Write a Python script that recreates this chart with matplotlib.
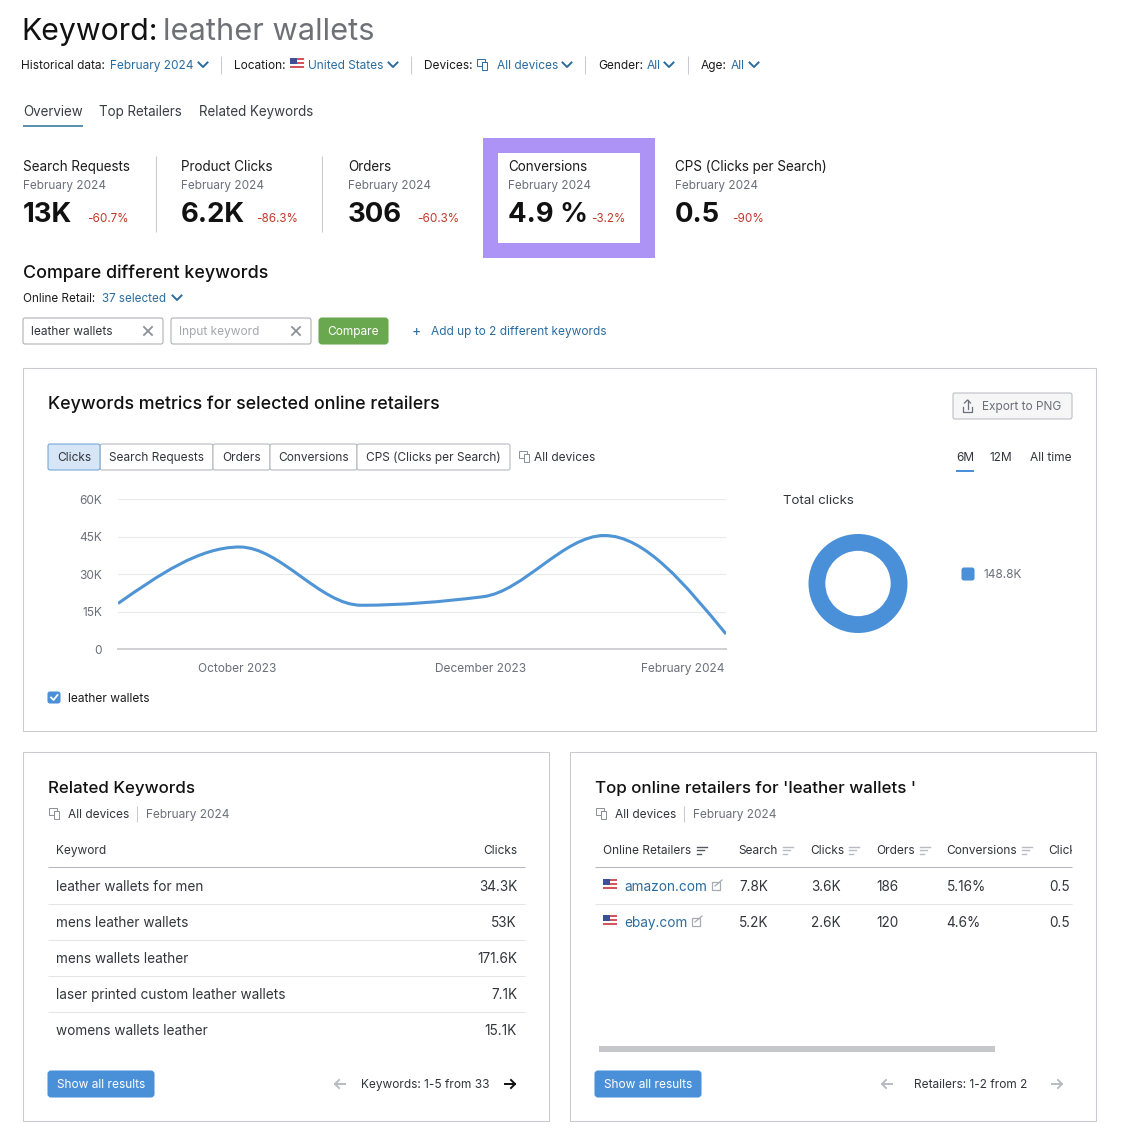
import numpy as np
import matplotlib
matplotlib.use("Agg")
import matplotlib.pyplot as plt
from matplotlib.patches import Rectangle, FancyBboxPatch, PathPatch
from matplotlib.path import Path
from matplotlib.transforms import ScaledTranslation

plt.rcParams["font.family"] = ["Inter", "DejaVu Sans"]

W, H = 1124, 1146

# metric cards
card_names = ["Search Requests", "Product Clicks", "Orders", "Conversions", "CPS (Clicks per Search)"]
card_values = ["13K", "6.2K", "306", "4.9 %", "0.5"]
card_deltas = ["-60.7%", "-86.3%", "-60.3%", "-3.2%", "-90%"]

# line chart
months = [0, 1, 2, 3, 4, 5]
clicks = [18200, 40800, 17500, 20900, 45400, 6000]
y_ticks = [0, 15000, 30000, 45000, 60000]
y_labels = ["0", "15K", "30K", "45K", "60K"]
x_ticks = [1, 3, 5]
x_labels = ["October 2023", "December 2023", "February 2024"]
total_clicks = [148800]

# tabs
metric_tabs = ["Clicks", "Search Requests", "Orders", "Conversions", "CPS (Clicks per Search)"]
range_tabs = ["6M", "12M", "All time"]

# related keywords table
keywords = ["leather wallets for men", "mens leather wallets", "mens wallets leather",
            "laser printed custom leather wallets", "womens wallets leather"]
keyword_clicks = ["34.3K", "53K", "171.6K", "7.1K", "15.1K"]

# retailers table
retailers = ["amazon.com", "ebay.com"]
ret_search = ["7.8K", "5.2K"]
ret_clicks = ["3.6K", "2.6K"]
ret_orders = ["186", "120"]
ret_conv = ["5.16%", "4.6%"]
ret_cps = ["0.5", "0.5"]

BLACK = "#1c1c1e"
GREY = "#6c6e79"
LINK = "#2b6c9e"
RED = "#c0392b"
BLUE = "#4a90d9"
BORDER = "#c9cacf"
ICON = "#8b8e97"
SMALL = 8.55
BODY = 9.8
HEAD = 12.85
HEAD2 = 12.2

fig = plt.figure(figsize=(W / 100, H / 100), dpi=100)
ax = fig.add_axes([0, 0, 1, 1])
ax.set_xlim(0, W)
ax.set_ylim(H, 0)
ax.axis("off")


def txt(x, y, s, size=SMALL, color=BLACK, ha="left", weight="normal", clip=None, z=3):
    t = ax.text(x, y + 1, s, fontsize=size, color=color, ha=ha, va="center", fontweight=weight, zorder=z)
    if clip is not None:
        t.set_clip_path(clip)
        t.set_clip_on(True)
    return t


def box(x0, y0, x1, y1, fc="white", ec=BORDER, lw=0.75, r=2, z=1):
    p = FancyBboxPatch((x0, y0), x1 - x0, y1 - y0, boxstyle=f"round,pad=0,rounding_size={r}",
                       fc=fc, ec=ec, lw=lw, zorder=z)
    ax.add_patch(p)
    return p


def hline(x0, x1, y, color="#e4e5e8", lw=0.75):
    ax.plot([x0, x1], [y, y], color=color, lw=lw, solid_capstyle="butt")


def vline(x, y0, y1, color="#c9cbd1", lw=0.75):
    ax.plot([x, x], [y0, y1], color=color, lw=lw, solid_capstyle="butt")


def chevron(x, y, color=LINK):
    ax.plot([x - 4.5, x, x + 4.5], [y - 2.5, y + 2, y - 2.5], color=color, lw=1.4)


def flag(x, y):
    # small US flag, top left corner at x, y
    w, h = 14, 11
    ax.add_patch(Rectangle((x, y), w, h, fc="white", ec="none", zorder=3))
    for i in range(3):
        ax.add_patch(Rectangle((x, y + i * 4), w, 2.4, fc="#d5555f", ec="none", zorder=3))
    ax.add_patch(Rectangle((x, y), 6.5, 5.5, fc="#3c4f9a", ec="none", zorder=4))


def devices(x, y, color=ICON):
    ax.add_patch(Rectangle((x, y - 5), 8, 7, fc="none", ec=color, lw=0.7))
    ax.add_patch(Rectangle((x + 5, y - 2), 5, 8, fc="white", ec=color, lw=0.7, zorder=3))


def sort_icon(x, y, color="#b9bbc2"):
    for i, w in enumerate([10, 7, 4]):
        ax.plot([x, x + w], [y - 3.5 + i * 3.5] * 2, color=color, lw=1.0)


def ext_icon(x, y):
    ax.add_patch(Rectangle((x, y - 3), 8, 8, fc="none", ec="#a9abb3", lw=0.9))
    ax.plot([x + 3, x + 10], [y + 1, y - 5], color="#a9abb3", lw=0.9)


def arrow(x, y, direction, color):
    ax.plot([x - 5, x + 5], [y, y], color=color, lw=1.4)
    tip = x + 5 * direction
    ax.plot([tip - 4 * direction, tip, tip - 4 * direction], [y - 4, y, y + 4], color=color, lw=1.4)


# header
txt(21, 31, "Keyword:", size=21.8, color="#111111")
txt(163, 31, "leather wallets", size=22.2, color="#6f7076")

txt(21, 65, "Historical data:")
txt(110, 65, "February 2024", color=LINK)
chevron(203, 65)
vline(221, 56, 74)
txt(234, 65, "Location:")
flag(290, 58)
txt(308, 65, "United States", color=LINK)
chevron(393, 65)
vline(411, 56, 74)
txt(424, 65, "Devices:")
devices(477, 64, color=LINK)
txt(497, 65, "All devices", color=LINK)
chevron(567, 65)
vline(585, 56, 74)
txt(598, 65, "Gender:")
txt(647, 65, "All", color=LINK)
chevron(669, 65)
vline(688, 56, 74)
txt(701, 65, "Age:")
txt(731, 65, "All", color=LINK)
chevron(754, 65)

txt(23, 111, "Overview", size=9.65, color="#3b3d45")
txt(99, 111, "Top Retailers", size=9.65, color="#3b3d45")
txt(199, 111, "Related Keywords", size=9.65, color="#3b3d45")
ax.add_patch(Rectangle((23, 125), 60, 2, fc="#5b92ad", ec="none"))

# highlighted card
ax.add_patch(Rectangle((483, 138), 172, 120, fc="#ae93f6", ec="none", zorder=0.5))
ax.add_patch(Rectangle((498, 153), 142, 90, fc="white", ec="none", zorder=0.6))

card_x = [23, 181, 348, 508, 675]
delta_x = [87, 256, 417, 591, 732]
for i in range(len(card_names)):
    x = card_x[i]
    txt(x, 166, card_names[i], size=9.7)
    txt(x, 185, "February 2024", size=8.5, color=GREY)
    txt(x, 214.5, card_values[i], size=19.8, weight="bold", color="#111111")
    txt(delta_x[i], 218, card_deltas[i], size=8.4, color=RED)
vline(156, 156, 232)
vline(322, 156, 232)

# compare
txt(23, 272, "Compare different keywords", size=HEAD, weight="medium", color="#111111")
txt(23, 298, "Online Retail:", size=8.4)
txt(102, 298, "37 selected", size=8.4, color=LINK)
chevron(177, 298)
box(23, 318, 163, 344, ec="#a9abb3")
txt(31, 331, "leather wallets", color="#33353c")
box(171, 318, 311, 344, ec="#a9abb3")
txt(179, 331, "Input keyword", color="#a5a7ae")
for cx in (148, 296):
    ax.plot([cx - 4, cx + 4], [327, 335], color="#8e9099", lw=1.3)
    ax.plot([cx - 4, cx + 4], [335, 327], color="#8e9099", lw=1.3)
box(319, 318, 388, 344, fc="#6aa84f", ec="#6aa84f", r=3)
txt(353.5, 331, "Compare", color="white", ha="center")
txt(412, 331, "+", size=10, color=LINK)
txt(431, 331, "Add up to 2 different keywords", color=LINK)

# chart panel
ax.add_patch(Rectangle((23, 368), 1073, 363, fc="white", ec=BORDER, lw=0.75, zorder=0.2))
txt(48, 403, "Keywords metrics for selected online retailers", size=HEAD, weight="medium", color="#111111")
box(953, 393, 1072, 419, fc="#f6f6f7", ec="#b9bbc2")
ax.plot([963, 963, 972, 972], [407, 412, 412, 407], color="#6c6e79", lw=0.9, zorder=3)
ax.plot([967.5, 967.5], [400, 409], color="#6c6e79", lw=0.9, zorder=3)
ax.plot([964.5, 967.5, 970.5], [403, 400, 403], color="#6c6e79", lw=0.9, zorder=3)
txt(982, 406, "Export to PNG", color="#6c6e79")

tab_edges = [48, 100, 213, 270, 357, 510]
for i, name in enumerate(metric_tabs):
    active = i == 0
    box(tab_edges[i], 444, tab_edges[i + 1], 470, fc="#d6e6f6" if active else "white",
        ec="#6ea4d6" if active else "#b4b6bd", r=2, z=2 if active else 1.5)
    txt((tab_edges[i] + tab_edges[i + 1]) / 2, 457, name, color="#33353c", ha="center")
devices(519, 456)
txt(534, 457, "All devices", color="#33353c")

for x, name in zip([956, 990, 1030], range_tabs):
    txt(x, 457, name, color="#33353c")
ax.add_patch(Rectangle((956, 470), 18, 2, fc="#4a90d9", ec="none"))

txt(783, 500, "Total clicks", size=9.55, color="#33353c")

# line chart axes
lax = fig.add_axes([118 / W, 1 - 649 / H, (726 - 118) / W, 150 / H])
lax.patch.set_alpha(0)
lax.set_xlim(months[0], months[-1])
lax.set_ylim(0, 60000)
lax.set_yticks(y_ticks)
lax.set_yticklabels(y_labels, fontsize=SMALL, color=GREY)
lax.set_xticks(x_ticks)
lax.set_xticklabels(x_labels, fontsize=SMALL, color=GREY)
lax.get_xticklabels()[-1].set_ha("right")
lax.tick_params(axis="both", length=0)
lax.tick_params(axis="y", pad=11.5)
lax.tick_params(axis="x", pad=10)
shift = ScaledTranslation(-2 / 100, 0, fig.dpi_scale_trans)
for lab in lax.get_xticklabels():
    lab.set_transform(lab.get_transform() + shift)
lax.grid(axis="y", color="#e9eaec", lw=0.8)
lax.set_axisbelow(True)
for name, sp in lax.spines.items():
    sp.set_visible(name == "bottom")
lax.spines["bottom"].set_color("#cfd0d4")
lax.spines["bottom"].set_linewidth(1.4)

# monotone curve through the monthly values, as bezier segments
xs = np.array(months, dtype=float)
ys = np.array(clicks, dtype=float)
sl = np.diff(ys) / np.diff(xs)
tang = np.zeros_like(ys)
for i in range(1, len(ys) - 1):
    if sl[i - 1] * sl[i] > 0:
        tang[i] = 2 * sl[i - 1] * sl[i] / (sl[i - 1] + sl[i])
tang[0] = (3 * sl[0] - tang[1]) / 2
tang[-1] = (3 * sl[-1] - tang[-2]) / 2
verts = [(xs[0], ys[0])]
codes = [Path.MOVETO]
for i in range(len(xs) - 1):
    d = (xs[i + 1] - xs[i]) / 3
    verts += [(xs[i] + d, ys[i] + tang[i] * d), (xs[i + 1] - d, ys[i + 1] - tang[i + 1] * d),
              (xs[i + 1], ys[i + 1])]
    codes += [Path.CURVE4] * 3
lax.add_patch(PathPatch(Path(verts, codes), fc="none", ec="#4f94d4", lw=2.2, capstyle="butt"))

# checkbox legend
box(48, 692, 60, 703, fc=BLUE, ec=BLUE, r=2)
ax.plot([51, 53.5, 57.5], [697.5, 700, 695], color="white", lw=1.3, zorder=3)
txt(68, 698, "leather wallets")

# donut
dax = fig.add_axes([(858 - 49.5) / W, 1 - (583.5 + 49.5) / H, 99 / W, 99 / H])
dax.pie(total_clicks, colors=[BLUE], radius=1.0, wedgeprops={"width": 0.34})
dax.set_xlim(-1, 1)
dax.set_ylim(-1, 1)
box(962, 568, 974, 580, fc=BLUE, ec=BLUE, r=2)
txt(984, 574, "148.8K", color=GREY)

# related keywords panel
ax.add_patch(Rectangle((23, 752), 526, 369, fc="white", ec=BORDER, lw=0.75, zorder=0.2))
txt(48, 788, "Related Keywords", size=HEAD2, weight="medium", color="#111111")
devices(49, 813)
txt(68, 814, "All devices", color="#33353c")
vline(137, 806, 822)
txt(146, 814, "February 2024", color=GREY)
txt(56, 850, "Keyword", color="#33353c")
txt(517, 850, "Clicks", color="#33353c", ha="right")
hline(48, 525, 867, color="#b4b6bd")
for i in range(len(keywords)):
    y = 886 + i * 36
    txt(56, y, keywords[i], size=BODY, color="#33353c")
    txt(517, y, keyword_clicks[i], size=BODY, color="#33353c", ha="right")
    if i < len(keywords) - 1:
        hline(48, 525, y + 17.5)
box(48, 1071, 154, 1097, fc="#4a90d9", ec="#4a90d9", r=3)
txt(101, 1084, "Show all results", color="white", ha="center")
arrow(340, 1084, -1, "#b9bbc2")
txt(361, 1084, "Keywords: 1-5 from 33", color="#33353c")
arrow(510, 1084, 1, "#111111")

# retailers panel
ax.add_patch(Rectangle((570, 752), 526, 369, fc="white", ec=BORDER, lw=0.75, zorder=0.2))
txt(595, 788, "Top online retailers for 'leather wallets '", size=HEAD2, weight="medium", color="#111111")
devices(596, 813)
txt(615, 814, "All devices", color="#33353c")
vline(684, 806, 822)
txt(693, 814, "February 2024", color=GREY)

txt(603, 850, "Online Retailers", color="#33353c")
sort_icon(697, 850, color="#555760")
txt(738.5, 850, "Search", color="#33353c")
sort_icon(783, 850)
txt(810.5, 850, "Clicks", color="#33353c")
sort_icon(849, 850)
txt(876.5, 850, "Orders", color="#33353c")
sort_icon(920, 850)
txt(946.5, 850, "Conversions", color="#33353c")
sort_icon(1022, 850)
clip_rect = Rectangle((1040, 830), 32, 110, transform=ax.transData)
txt(1048.5, 850, "Clicks", color="#33353c", clip=clip_rect)
hline(595, 1072, 867, color="#b4b6bd")
for i in range(len(retailers)):
    y = 886 + i * 36
    flag(603, y - 7)
    txt(624.5, y, retailers[i], size=BODY, color=LINK)
    ext_icon(712 if i == 0 else 692, y - 1)
    txt(739, y, ret_search[i], size=BODY, color="#33353c")
    txt(811, y, ret_clicks[i], size=BODY, color="#33353c")
    txt(876.5, y, ret_orders[i], size=BODY, color="#33353c")
    txt(946.5, y, ret_conv[i], size=BODY, color="#33353c")
    txt(1049, y, ret_cps[i], size=BODY, color="#33353c")
hline(595, 1072, 903.5)
ax.add_patch(Rectangle((599, 1046), 396, 6, fc="#c6c7cb", ec="none"))
box(595, 1071, 701, 1097, fc="#4a90d9", ec="#4a90d9", r=3)
txt(648, 1084, "Show all results", color="white", ha="center")
arrow(887, 1084, -1, "#b9bbc2")
txt(914, 1084, "Retailers: 1-2 from 2", color="#33353c")
arrow(1057, 1084, 1, "#b9bbc2")

fig.savefig("out.png", dpi=100, facecolor="white")
